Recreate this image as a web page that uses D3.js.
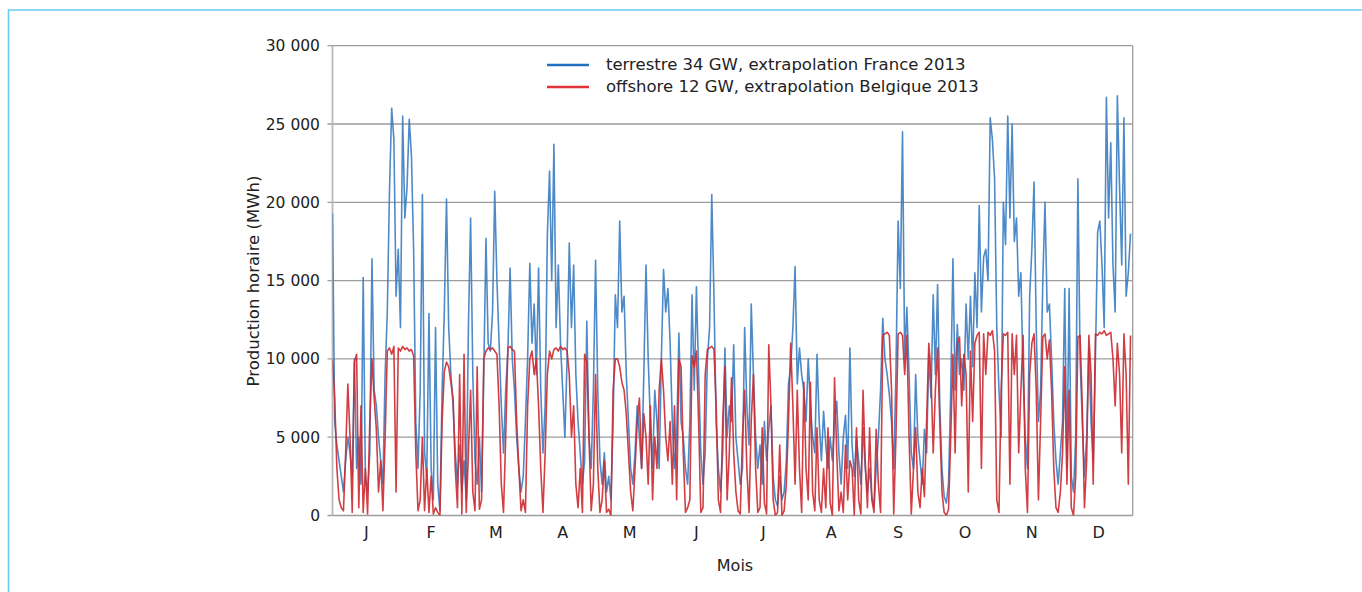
<!DOCTYPE html>
<html>
<head>
<meta charset="utf-8">
<script src="https://cdn.jsdelivr.net/npm/d3@7"></script>
<style>
  body { margin: 0; background: #fff; }
  svg { display: block; font-family: "DejaVu Sans", "Liberation Sans", Arial, sans-serif; }
</style>
</head>
<body>
<div id="chart"></div>
<script>
// Daily values (MWh per hour), day 0 = 1 January
const terrestre = [
  19300, 6000, 4500, 3500, 2500, 1500, 3500, 5000, 4000, 2500,
  10000, 3000, 5000, 2000, 15200, 2500, 1500, 4000, 16400, 8000,
  7000, 5000, 3500, 2000, 9000, 13000, 20800, 26000, 24000, 14000,
  17000, 12000, 25500, 19000, 21000, 25300, 23000, 17000, 6000, 3000,
  8000, 20500, 4000, 2500, 12900, 3000, 1000, 12000, 2000, 300,
  8000, 13000, 20200, 12000, 9000, 7000, 4000, 2000, 4500, 1500,
  3500, 1000, 12000, 19000, 9000, 3500, 2000, 5000, 1500, 9000,
  17700, 11000, 10500, 13000, 20700, 15000, 11000, 7000, 4000, 8000,
  10500, 15800, 10000, 8000, 5000, 3000, 1500, 2500, 6000, 10000,
  16100, 11000, 13500, 9000, 15800, 8000, 4000, 7000, 17900, 22000,
  15000, 23700, 12000, 16000, 11000, 8000, 5000, 10000, 17400, 12000,
  16000, 9000, 6000, 4000, 2000, 3500, 12400, 5000, 3000, 8000,
  16300, 8000, 3500, 2000, 4000, 1500, 2500, 1000, 6000, 14100,
  12000, 18800, 13000, 14000, 9000, 6000, 3000, 2000, 4000, 7000,
  5000, 3000, 9000, 16000, 10000, 6000, 3000, 8000, 6000, 3000,
  10000, 15700, 13000, 14500, 11000, 6000, 3000, 5000, 11650, 6000,
  5000, 3000, 2000, 6000, 14100, 8000, 14600, 9000, 4000, 2000,
  4000, 10000, 12000, 20500, 14000, 6000, 3000, 1500, 4000, 10700, 5000, 7000,
  6000, 10900, 5000, 3500, 2000, 3000, 12000, 7000, 4500, 13500,
  9000, 5000, 3000, 4500, 2000, 6000, 3500, 5500, 7000, 2500,
  1000, 600, 2500, 1000, 1500, 3500, 8400, 9500, 12000, 15900,
  8400, 10700, 9000, 8000, 6000, 10000, 7000, 5000, 4000, 10300,
  6000, 3500, 6650, 4500, 3000, 5000, 3500, 6000, 7300, 4000,
  2000, 5000, 6400, 3000, 10700, 4500, 2500, 5000, 3500, 2000,
  5600, 3000, 1500, 3000, 1200, 600, 3000, 5000, 8000, 12600,
  10000, 9000, 7700, 6000, 3000, 9000, 18800, 14500, 24500, 10000,
  13300, 9000, 4000, 3000, 9000, 5000, 3500, 2000, 5500, 4000,
  10300, 7500, 14100, 9000, 14750, 7000, 3000, 1200, 800, 2000,
  8000, 16400, 8000, 12200, 9000, 10000, 8000, 13500, 10000, 14000,
  9500, 15500, 12000, 19800, 13000, 16500, 17000, 15000, 25400, 24000,
  21500, 12000, 8000, 5000, 20000, 17300, 25500, 19000, 25000, 17500,
  19000, 14000, 15500, 9000, 5000, 3000, 14000, 17000, 21300, 12000,
  6000, 8000, 15000, 20000, 13000, 13500, 10000, 6000, 3500, 2000,
  4000, 6000, 14500, 3000, 14500, 2500, 1500, 5000, 21500, 10000,
  6000, 2500, 5000, 10700, 6000, 3500, 10000, 18100, 18800, 16000,
  12000, 26700, 19000, 23800, 16000, 13000, 26800, 21000, 16000, 25400,
  14000, 15500, 18000
];

const offshore = [
  10000, 7500, 3000, 1000, 500, 300, 4000, 8400, 5000, 200,
  9800, 10300, 500, 7000, 200, 3000, 100, 6000, 10000, 7500,
  5500, 1500, 3500, 300, 5000, 10500, 10700, 10300, 10800, 1500,
  10700, 10500, 10800, 10600, 10700, 10500, 10600, 10200, 4000, 300,
  1000, 5000, 300, 3000, 200, 2500, 100, 500, 200, 0,
  6000, 9200, 9800, 9500, 8500, 7500, 3000, 500, 9000, 100,
  10300, 200, 4000, 8000, 1500, 300, 9500, 400, 1000, 10000,
  10500, 10700, 10600, 10700, 10500, 10300, 7000, 2000, 200, 5000,
  10700, 10800, 10600, 10500, 6000, 3000, 300, 1000, 200, 7000,
  10000, 10500, 9000, 10000, 7000, 3000, 200, 4000, 9000, 10500,
  10000, 10600, 10700, 10500, 10800, 10600, 10700, 10500, 9000, 5000,
  7000, 2000, 500, 3000, 200, 10300, 9800, 5000, 300, 2000,
  9000, 3000, 200, 1000, 3500, 200, 400, 0, 8000, 10000,
  10000, 9500, 8500, 8000, 6500, 4000, 1500, 300, 3000, 6000,
  7500, 3000, 6500, 5000, 2000, 7000, 1000, 5000, 3000, 8000,
  10000, 8000, 5000, 3500, 6000, 2000, 7000, 1000, 10000, 9500,
  4000, 200, 500, 1000, 10200, 9500, 10500, 6000, 200, 500,
  9000, 10600, 10700, 10800, 10600, 7000, 1000, 200, 6000, 9500, 1000, 4000,
  8800, 4000, 1500, 300, 100, 5000, 8000, 3000, 200, 6000,
  9000, 3000, 200, 500, 5600, 800, 100, 10900, 7000, 1000,
  0, 200, 4500, 0, 300, 2000, 6000, 11000, 7000, 2000,
  8000, 3000, 200, 8500, 3000, 1000, 8500, 1500, 300, 5600,
  1000, 200, 3000, 500, 5600, 800, 0, 8800, 4000, 300,
  1500, 200, 4500, 1000, 3500, 3000, 0, 5600, 1000, 100,
  8000, 3500, 500, 5600, 1000, 200, 5500, 2000, 200, 11500,
  11600, 11700, 11500, 8000, 100, 5000, 11600, 11700, 11500, 9000,
  11500, 5000, 100, 3000, 5600, 1500, 500, 3000, 1200, 6000,
  11000, 9000, 4000, 8000, 10700, 6000, 1500, 200, 0, 400,
  5000, 10300, 4000, 11000, 11400, 7000, 10300, 9000, 1500, 10500,
  6000, 11000, 11500, 11700, 3000, 11600, 9000, 11700, 11500, 11800,
  10500, 1000, 200, 8000, 11600, 11500, 11700, 2000, 11600, 9000,
  11500, 4000, 8000, 11500, 3000, 200, 9000, 11000, 11600, 8000,
  1000, 6000, 11400, 11600, 10000, 11200, 8000, 3000, 500, 200,
  1500, 4000, 9500, 2000, 8000, 500, 0, 2500, 11400, 11500,
  7000, 500, 3500, 11500, 9000, 2000, 11600, 11500, 11700, 11600,
  11800, 11500, 11600, 11700, 10000, 7000, 11000, 9000, 4000, 11600,
  9000, 2000, 11500
];

const monthLabels = ["J", "F", "M", "A", "M", "J", "J", "A", "S", "O", "N", "D"];
const monthStarts = [0, 31, 59, 90, 120, 151, 181, 212, 243, 273, 304, 334, 365];
const yTicks = [0, 5000, 10000, 15000, 20000, 25000, 30000];

const seriesNames = [
  "terrestre 34 GW, extrapolation France 2013",
  "offshore 12 GW, extrapolation Belgique 2013"
];
const seriesColors = ["#3b7dc1", "#cc2a30"];
const legendColors = ["#1f70bf", "#e2333a"];

const width = 1362, height = 592;
const plot = { left: 332.5, right: 1132.7, top: 45.7, bottom: 515.5 };

const svg = d3.select("#chart").append("svg")
  .attr("width", width)
  .attr("height", height);

// light blue frame, open on the right and bottom
svg.append("path")
  .attr("d", `M${width},10 H8.5 V${height}`)
  .attr("fill", "none")
  .attr("stroke", "#68cdf2")
  .attr("stroke-width", 1.6);

const x = d3.scaleLinear().domain([0, 365]).range([plot.left, plot.right]);
const y = d3.scaleLinear().domain([0, 30000]).range([plot.bottom, plot.top]);

const fr = d3.formatLocale({ decimal: ",", thousands: " ", grouping: [3], currency: ["", " €"] });
const fmt = fr.format(",d");

// grid lines
svg.append("g")
  .selectAll("line")
  .data(yTicks)
  .join("line")
  .attr("x1", plot.left - 5)
  .attr("x2", plot.right)
  .attr("y1", d => y(d))
  .attr("y2", d => y(d))
  .attr("stroke", "#9d9d9d")
  .attr("stroke-width", 1.3);

// y labels
svg.append("g")
  .selectAll("text")
  .data(yTicks)
  .join("text")
  .attr("x", 320)
  .attr("y", d => y(d))
  .attr("dy", "0.36em")
  .attr("text-anchor", "end")
  .attr("font-size", "15.5px")
  .attr("fill", "#222")
  .text(d => fmt(d));

// plot frame sides
svg.append("line")
  .attr("x1", plot.left).attr("x2", plot.left)
  .attr("y1", plot.top).attr("y2", plot.bottom)
  .attr("stroke", "#b8b8b8").attr("stroke-width", 1.8);
svg.append("line")
  .attr("x1", plot.right).attr("x2", plot.right)
  .attr("y1", plot.top).attr("y2", plot.bottom)
  .attr("stroke", "#9d9d9d").attr("stroke-width", 1.3);

svg.append("clipPath")
  .attr("id", "plot-clip")
  .append("rect")
  .attr("x", plot.left)
  .attr("y", plot.top)
  .attr("width", plot.right - plot.left)
  .attr("height", plot.bottom - plot.top);

const line = d3.line()
  .x((d, i) => x(i))
  .y(d => y(d));

const lines = svg.append("g").attr("clip-path", "url(#plot-clip)");

[terrestre, offshore].forEach((values, k) => {
  lines.append("path")
    .datum(values)
    .attr("fill", "none")
    .attr("stroke", seriesColors[k])
    .attr("stroke-width", 1.6)
    .attr("stroke-linejoin", "round")
    .attr("stroke-opacity", 0.9)
    .attr("d", line);
});

// month labels at mid-month
svg.append("g")
  .selectAll("text")
  .data(monthLabels)
  .join("text")
  .attr("x", (d, i) => x((monthStarts[i] + monthStarts[i + 1]) / 2))
  .attr("y", 532)
  .attr("dy", "0.36em")
  .attr("text-anchor", "middle")
  .attr("font-size", "16px")
  .attr("fill", "#222")
  .text(d => d);

svg.append("text")
  .attr("x", 735)
  .attr("y", 565)
  .attr("dy", "0.36em")
  .attr("text-anchor", "middle")
  .attr("font-size", "16px")
  .attr("fill", "#222")
  .text("Mois");

svg.append("text")
  .attr("transform", "translate(253,281) rotate(-90)")
  .attr("dy", "0.36em")
  .attr("text-anchor", "middle")
  .attr("font-size", "16.5px")
  .attr("fill", "#222")
  .text("Production horaire (MWh)");

// legend
const legend = svg.append("g").attr("transform", "translate(547,64)");
seriesNames.forEach((name, k) => {
  legend.append("line")
    .attr("x1", 0).attr("x2", 42)
    .attr("y1", k * 22 + 1).attr("y2", k * 22 + 1)
    .attr("stroke", legendColors[k])
    .attr("stroke-width", 2.6);
  legend.append("text")
    .attr("x", 59)
    .attr("y", k * 22)
    .attr("dy", "0.36em")
    .attr("font-size", "16.5px")
    .attr("fill", "#222")
    .text(name);
});
</script>
</body>
</html>
